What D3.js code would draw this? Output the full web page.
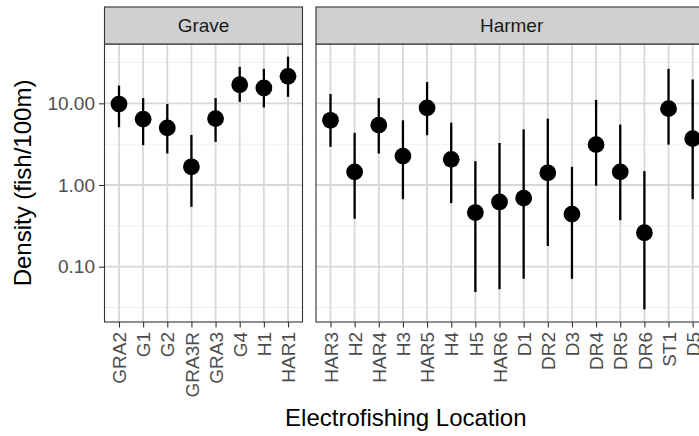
<!DOCTYPE html>
<html>
<head>
<meta charset="utf-8">
<script src="https://cdn.jsdelivr.net/npm/d3@7"></script>
<style>
  body { margin: 0; background: #fff; }
  svg { display: block; font-family: 'Liberation Sans', Arial, sans-serif; }
</style>
</head>
<body>
<svg id="chart" width="699" height="436"></svg>
<script>
// Grave river sites
const graveSites = ['GRA2', 'G1', 'G2', 'GRA3R', 'GRA3', 'G4', 'H1', 'HAR1'];
const graveMean  = [9.8, 6.4, 5.0, 1.67, 6.5, 16.9, 15.4, 21.4];
const graveLower = [5.1, 3.07, 2.43, 0.54, 3.37, 10.4, 8.9, 12.0];
const graveUpper = [16.5, 11.6, 9.8, 4.1, 11.6, 28, 26.4, 37.3];

// Harmer river sites
const harmerSites = ['HAR3', 'H2', 'HAR4', 'H3', 'HAR5', 'H4', 'H5', 'HAR6',
  'D1', 'DR2', 'D3', 'DR4', 'DR5', 'DR6', 'ST1', 'D5'];
const harmerMean  = [6.2, 1.45, 5.4, 2.26, 8.8, 2.06, 0.46, 0.62,
  0.69, 1.41, 0.44, 3.12, 1.45, 0.26, 8.6, 3.7];
const harmerLower = [2.93, 0.386, 2.43, 0.67, 4.07, 0.60, 0.049, 0.053,
  0.071, 0.179, 0.071, 0.98, 0.37, 0.030, 3.12, 0.67];
const harmerUpper = [13.0, 4.35, 11.6, 6.2, 18.2, 5.8, 1.96, 3.27,
  4.8, 6.5, 1.67, 11.0, 5.5, 1.48, 26.4, 19.6];

const yTicks = [0.1, 1, 10];
const yMinor = [Math.pow(10, -1.5), Math.pow(10, -0.5), Math.pow(10, 0.5), Math.pow(10, 1.5)];

const style = {
  border: '#333333',
  strip: '#d0d0d0',
  gridMajor: '#d8d8d8',
  gridMinor: '#efefef',
  tickText: '#4d4d4d',
  stripText: '#1a1a1a',
  tickSize: 19,
  titleSize: 24,
  pointR: 8.4,
  barWidth: 2.3
};

const svg = d3.select('#chart');

const panelTop = 44, panelBottom = 322, stripH = 37;
const step = 198 / 8.2;

const panels = [
  { name: 'Grave', x0: 104.5, sites: graveSites, mean: graveMean, lower: graveLower, upper: graveUpper },
  { name: 'Harmer', x0: 316, sites: harmerSites, mean: harmerMean, lower: harmerLower, upper: harmerUpper }
];

// shared log y scale, ggplot style 5% expansion in log space
const allVals = [...graveLower, ...graveUpper, ...harmerLower, ...harmerUpper];
const lmin = Math.log10(d3.min(allVals)), lmax = Math.log10(d3.max(allVals));
const ex = (lmax - lmin) * 0.05;
const yScale = d3.scaleLog()
  .domain([Math.pow(10, lmin - ex), Math.pow(10, lmax + ex)])
  .range([panelBottom, panelTop]);

panels.forEach(p => {
  const w = step * (p.sites.length + 0.2);
  p.w = w;
  const xScale = d3.scalePoint().domain(p.sites).range([p.x0, p.x0 + w]).padding(0.6);

  const g = svg.append('g').attr('class', 'panel');

  // minor grid
  g.selectAll('line.minor').data(yMinor).enter().append('line')
    .attr('x1', p.x0).attr('x2', p.x0 + w)
    .attr('y1', d => yScale(d)).attr('y2', d => yScale(d))
    .attr('stroke', style.gridMinor).attr('stroke-width', 1);

  // major grid
  g.selectAll('line.hmaj').data(yTicks).enter().append('line')
    .attr('x1', p.x0).attr('x2', p.x0 + w)
    .attr('y1', d => yScale(d)).attr('y2', d => yScale(d))
    .attr('stroke', style.gridMajor).attr('stroke-width', 1.8);
  g.selectAll('line.vmaj').data(p.sites).enter().append('line')
    .attr('x1', d => xScale(d)).attr('x2', d => xScale(d))
    .attr('y1', panelTop).attr('y2', panelBottom)
    .attr('stroke', style.gridMajor).attr('stroke-width', 1.8);

  // error bars
  g.selectAll('line.err').data(p.sites).enter().append('line')
    .attr('x1', d => xScale(d)).attr('x2', d => xScale(d))
    .attr('y1', (d, i) => yScale(p.lower[i]))
    .attr('y2', (d, i) => yScale(p.upper[i]))
    .attr('stroke', '#000').attr('stroke-width', style.barWidth);

  // points
  g.selectAll('circle').data(p.sites).enter().append('circle')
    .attr('cx', d => xScale(d))
    .attr('cy', (d, i) => yScale(p.mean[i]))
    .attr('r', style.pointR)
    .attr('fill', '#000');

  // panel border
  g.append('rect')
    .attr('x', p.x0).attr('y', panelTop).attr('width', w).attr('height', panelBottom - panelTop)
    .attr('fill', 'none').attr('stroke', style.border).attr('stroke-width', 1.1);

  // strip
  g.append('rect')
    .attr('x', p.x0).attr('y', panelTop - stripH).attr('width', w).attr('height', stripH)
    .attr('fill', style.strip).attr('stroke', style.border).attr('stroke-width', 1.1);
  g.append('text')
    .attr('x', p.x0 + w / 2).attr('y', panelTop - stripH / 2)
    .attr('dy', '0.35em')
    .attr('text-anchor', 'middle')
    .attr('fill', style.stripText)
    .style('font-size', style.tickSize + 'px')
    .text(p.name);

  // x axis
  const xAxis = d3.axisBottom(xScale).tickSize(5.5).tickPadding(5);
  const xSel = g.append('g')
    .attr('transform', `translate(0, ${panelBottom})`)
    .call(xAxis);
  xSel.select('.domain').remove();
  xSel.selectAll('.tick line').attr('stroke', style.border).attr('stroke-width', 1.1);
  xSel.selectAll('.tick text')
    .attr('fill', style.tickText)
    .style('font-size', style.tickSize + 'px')
    .style('font-family', "'Liberation Sans', Arial, sans-serif")
    .attr('text-anchor', 'end')
    .attr('transform', 'rotate(-90)')
    .attr('x', -10)
    .attr('y', 0)
    .attr('dy', '0.35em');
});

// y axis on the first panel
const yAxis = d3.axisLeft(yScale).tickValues(yTicks).tickFormat(d3.format('.2f'))
  .tickSize(5.5).tickPadding(4);
const ySel = svg.append('g')
  .attr('transform', `translate(${panels[0].x0}, 0)`)
  .call(yAxis);
ySel.select('.domain').remove();
ySel.selectAll('.tick line').attr('stroke', style.border).attr('stroke-width', 1.1);
ySel.selectAll('.tick text')
  .attr('fill', style.tickText)
  .style('font-size', style.tickSize + 'px')
  .style('font-family', "'Liberation Sans', Arial, sans-serif");

// axis titles
const plotCenter = (panels[0].x0 + panels[1].x0 + panels[1].w) / 2;
svg.append('text')
  .attr('x', plotCenter).attr('y', 426)
  .attr('text-anchor', 'middle')
  .style('font-size', style.titleSize + 'px')
  .attr('fill', '#000')
  .text('Electrofishing Location');

svg.append('text')
  .attr('transform', `translate(31, ${(panelTop + panelBottom) / 2}) rotate(-90)`)
  .attr('text-anchor', 'middle')
  .style('font-size', style.titleSize + 'px')
  .attr('fill', '#000')
  .text('Density (fish/100m)');
</script>
</body>
</html>
